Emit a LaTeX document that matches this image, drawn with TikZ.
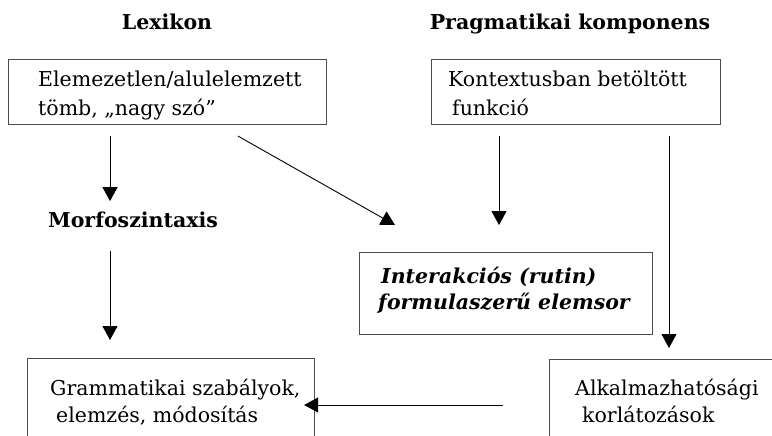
\documentclass[tikz,border=0pt]{standalone}
\usepackage{fontspec}
\setmainfont{DejaVu Serif}
\usetikzlibrary{arrows.meta,calc}
\begin{document}
\begin{tikzpicture}[x=1pt,y=-1pt,
  box/.style={draw=black!70, line width=1.1pt, inner sep=0pt, anchor=north west},
  txt/.style={anchor=base west, inner sep=0pt, font=\fontsize{20.5}{24}\selectfont},
  ttl/.style={anchor=base, inner sep=0pt, font=\fontsize{20.5}{24}\selectfont\bfseries},
  emph/.style={anchor=base west, inner sep=0pt, font=\fontsize{20.5}{24}\selectfont\bfseries\itshape},
  arr/.style={draw=black, line width=0.9pt, -{Triangle[length=14pt,width=15pt]}}]
\useasboundingbox (0,0) rectangle (772,436);
\clip (0,0) rectangle (772,436);
% titles
\node[ttl] (lex) at (167,30) {Lexikon};
\node[ttl] (prag) at (570,30) {Pragmatikai komponens};
\node[ttl] (morph) at (133,227) {Morfoszintaxis};
% boxes
\node[box, minimum width=318pt, minimum height=65pt] (b1) at (8,59) {};
\node[box, minimum width=289pt, minimum height=65pt] (b2) at (431,59) {};
\node[box, minimum width=293pt, minimum height=82pt] (b3) at (359,252) {};
\node[box, minimum width=287pt, minimum height=100pt] (b4) at (27,358) {};
\node[box, minimum width=250pt, minimum height=100pt] (b5) at (549,359) {};
% texts
\node[txt] (t1a) at (38,87) {Elemezetlen/alulelemzett};
\node[txt] (t1b) at (38,115) {tömb, „nagy szó”};
\node[txt] (t2a) at (448,87) {Kontextusban betöltött};
\node[txt] (t2b) at (452,115) {funkció};
\node[emph] (t3a) at (381,283) {Interakciós (rutin)};
\node[emph] (t3b) at (378,309) {formulaszerű elemsor};
\node[txt] (t4a) at (50,395) {Grammatikai szabályok,};
\node[txt] (t4b) at (56,422) {elemzés, módosítás};
\node[txt] (t5a) at (575,395) {Alkalmazhatósági};
\node[txt] (t5b) at (582,422) {korlátozások};
% arrows
\draw[arr] ($(b1.south west)+(102,11)$) -- ($(b1.south west)+(102,76)$);
\draw[arr] ($(b1.south west)+(102,126)$) -- ($(b4.north west)+(83,-18)$);
\draw[arr] ($(b1.south west)+(230,11)$) -- ($(b3.north west)+(36,-27)$);
\draw[arr] ($(b2.south west)+(68,11)$) -- ($(b3.north west)+(140,-27)$);
\draw[arr] ($(b2.south west)+(238,11)$) -- ($(b5.north west)+(120,-11)$);
\draw[arr] ($(b5.north west)+(-46,46)$) -- ($(b4.north east)+(-11,47)$);
\end{tikzpicture}
\end{document}
